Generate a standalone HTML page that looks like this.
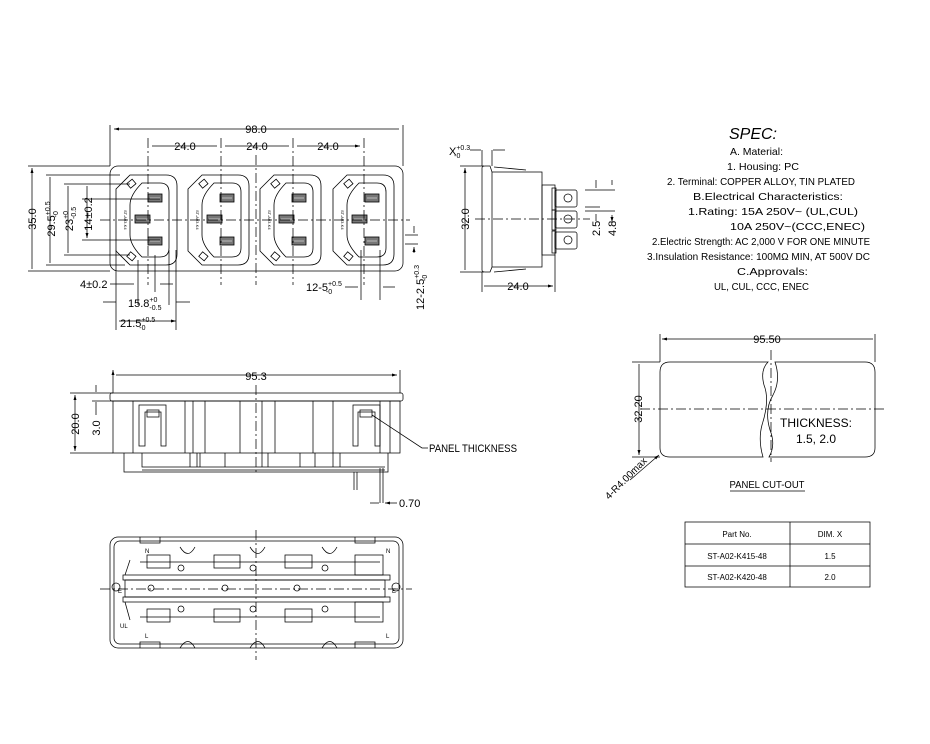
<!DOCTYPE html>
<html><head><meta charset="utf-8"><style>
html,body{margin:0;padding:0;background:#fff;}
svg{display:block;font-family:"Liberation Sans",sans-serif;}
</style></head><body>
<svg width="930" height="744" viewBox="0 0 930 744" xmlns="http://www.w3.org/2000/svg">
<defs>
<marker id="a" viewBox="0 0 10 6" refX="10" refY="3" markerWidth="8" markerHeight="4" orient="auto-start-reverse"><path d="M0,0L10,3L0,6z" fill="#000"/></marker>
<g id="sock" fill="none" stroke="#000" stroke-width="0.8">
<path d="M14,0H50Q61,0 61,11V79Q61,90 50,90H14L0,76V14Z"/>
<path d="M26,8H44Q53,8 53,17V73Q53,82 44,82H26Q14,70 14,60V30Q14,20 26,8Z"/>
<rect x="32" y="19" width="14" height="8" fill="#777"/>
<rect x="32" y="62" width="14" height="8" fill="#777"/>
<rect x="19" y="40" width="15" height="8" fill="#777"/>
<path d="M34,23H44M34,66H44M21,44H32" stroke="#fff" stroke-width="0.6"/>
<rect x="12" y="6" width="7" height="6" transform="rotate(-40 15 9)"/>
<rect x="12" y="78" width="7" height="6" transform="rotate(40 15 81)"/>
<text x="0" y="0" font-size="4" fill="#000" stroke="none" transform="translate(8,35) rotate(90)">ST-A03-K4</text>
</g>
</defs>
<g stroke="#000" stroke-width="0.75" fill="none">
<!-- FRONT VIEW -->
<rect x="110" y="166" width="293" height="105" rx="8"/>
<use href="#sock" x="116" y="175"/>
<use href="#sock" x="188" y="175"/>
<use href="#sock" x="260" y="175"/>
<use href="#sock" x="333" y="175"/>
<path d="M100,220H410" stroke-dasharray="10,3,2,3"/>
<path d="M148,138V285M221,138V285M293,138V285M364,138V285M256,155V285" stroke-dasharray="10,3,2,3"/>
<path d="M114,129H399M152,146H217M225,146H289M297,146H360" marker-start="url(#a)" marker-end="url(#a)"/>
<path d="M110,125V166M403,125V166"/>
<path d="M28,166H110M28,271H110M46,175H120M46,265H125M64,184H130M64,255H130M82,199H160M82,240H160"/>
<path d="M32,168V269M50,177V263M68,186V253M87,186V238" marker-start="url(#a)" marker-end="url(#a)"/>
<path d="M138,260V305M155,255V292M169,250V305M116,250V330M176,250V330M361,250V300M380,250V300M405,235H418M405,244H418"/>
<path d="M110,284H134M173,284H160M103,302H116M176,302H190M119,321H176" marker-end="url(#a)"/>
<path d="M345,287H358M395,287H383M414,226V233M414,253V247" marker-end="url(#a)"/>
<!-- SIDE VIEW -->
<path d="M482,168Q482,166 485,166H490L492,172V267L490,272H485Q482,272 482,270Z"/>
<path d="M492,172H542V267H492M494,167L526,170M494,272L526,269"/>
<rect x="542" y="185" width="13" height="70"/>
<rect x="555" y="190" width="22" height="17" rx="2"/><rect x="555" y="211" width="22" height="17" rx="2"/><rect x="555" y="232" width="22" height="17" rx="2"/>
<rect x="552" y="188" width="4" height="22"/><rect x="552" y="210" width="4" height="20"/><rect x="552" y="231" width="4" height="22"/>
<circle cx="568" cy="198" r="4"/><circle cx="568" cy="219" r="4"/><circle cx="568" cy="240" r="4"/>
<path d="M475,219H590" stroke-dasharray="10,3,2,3"/>
<path d="M460,166H484M460,272H484M482,272V292M555,255V292M585,190H615M585,207H600M585,211H615"/>
<path d="M465,168V270M484,286H553" marker-start="url(#a)" marker-end="url(#a)"/>
<path d="M482,150V166M492,150V166M470,150H481M505,150H493M596,188V180M596,214V221M612,185V180M612,215V222" marker-end="url(#a)"/>
<!-- ELEVATION -->
<rect x="110" y="393" width="293" height="8" rx="2"/>
<rect x="113" y="401" width="287" height="52"/>
<path d="M124,453V472H388V453M142,453V467H385M142,470H385"/>
<path d="M133,401V453M185,401V453M193,401V453M205,401V453M240,401V453M262,401V453M275,401V453M313,401V453M333,401V453M380,401V453M390,401V453"/>
<path d="M139,405H166V446H161V412H145V446H139Z M353,405H380V446H375V412H358V446H353Z"/>
<rect x="147" y="410" width="12" height="7"/><rect x="360" y="410" width="12" height="7"/>
<path d="M190,453V467M197,453V467M262,453V467M268,453V467M333,453V467M340,453V467M200,453V467M225,453V467M300,453V467M315,453V467"/>
<path d="M354,472V490M357,472V490M380,468V503M383,468V503"/>
<path d="M256,385V475" stroke-dasharray="10,3,2,3"/>
<path d="M113,370V393M400,370V393M116,375H397" marker-start="url(#a)" marker-end="url(#a)"/>
<path d="M70,393H113M92,401H113M70,453H113"/>
<path d="M75,395V451" marker-start="url(#a)" marker-end="url(#a)"/>
<path d="M96,385V392M96,415V402M370,503H379M397,503H385" marker-end="url(#a)"/>
<path d="M372,415L422,448H428"/>
<!-- BOTTOM VIEW -->
<rect x="110" y="537" width="293" height="111" rx="8"/>
<rect x="114" y="541" width="285" height="103" rx="6"/>
<path d="M123,575H390V580H123ZM123,597H390V602H123Z"/>
<path d="M125,580H385V597H125Z"/>
<path d="M147,555H170V568H147ZM214,555H240V568H214ZM285,555H312V568H285ZM355,555H383V575H355ZM147,609H170V622H147ZM214,609H240V622H214ZM285,609H312V622H285ZM355,602H383V622H355Z"/>
<path d="M140,562H380M140,617H380M130,560L125,575M130,620L125,602"/>
<path d="M180,547Q188,560 195,547M250,547Q258,560 265,547M322,547Q330,560 337,547M180,648Q188,635 195,648M250,648Q258,635 265,648M322,648Q330,635 337,648"/>
<path d="M140,537V543H160V537M355,537V543H375V537M140,648V642H160V648M355,648V642H375V648"/>
<circle cx="116" cy="587" r="4"/><circle cx="396" cy="587" r="4"/>
<circle cx="151" cy="588" r="3"/><circle cx="225" cy="588" r="3"/><circle cx="297" cy="588" r="3"/>
<circle cx="181" cy="568" r="3"/><circle cx="253" cy="568" r="3"/><circle cx="325" cy="568" r="3"/>
<circle cx="181" cy="609" r="3"/><circle cx="253" cy="609" r="3"/><circle cx="325" cy="609" r="3"/>
<path d="M100,589H412M256,530V660" stroke-dasharray="10,3,2,3"/>
<!-- PANEL CUT-OUT -->
<path d="M768,362H670Q660,362 660,372V448Q660,457 670,457H763Q758,440 762,425Q770,400 764,385Q760,370 768,362Z"/>
<path d="M775,362H865Q875,362 875,372V448Q875,457 865,457H769Q776,445 770,430Q764,410 773,395Q781,380 775,362Z"/>
<path d="M640,409H885M771,350V462" stroke-dasharray="10,3,2,3"/>
<path d="M660,334V362M875,334V362M632,362H660M632,457H660"/>
<path d="M662,339H873M639,364V455" marker-start="url(#a)" marker-end="url(#a)"/>
<path d="M630,480L659,455" marker-end="url(#a)"/>
<path d="M730,491H805"/>
<rect x="685" y="522" width="185" height="65"/>
<path d="M790,522V587M685,544H870M685,566H870"/>
</g>
<g fill="#000" font-size="11">
<text x="256" y="133" text-anchor="middle">98.0</text>
<text x="185" y="150" text-anchor="middle">24.0</text>
<text x="257" y="150" text-anchor="middle">24.0</text>
<text x="328" y="150" text-anchor="middle">24.0</text>
<text transform="translate(36,219) rotate(-90)" text-anchor="middle">35.0</text>
<text transform="translate(55,219) rotate(-90)" text-anchor="middle">29.5<tspan font-size="7" dy="-5">+0.5</tspan><tspan font-size="7" dx="-16" dy="8">-0</tspan></text>
<text transform="translate(73,219) rotate(-90)" text-anchor="middle">23<tspan font-size="7" dy="-5">+0</tspan><tspan font-size="7" dx="-8" dy="8">-0.5</tspan></text>
<text transform="translate(92,214) rotate(-90)" text-anchor="middle">14±0.2</text>
<text x="80" y="288">4±0.2</text>
<text x="128" y="307">15.8<tspan font-size="7" dy="-5">+0</tspan><tspan font-size="7" dx="-8" dy="8">-0.5</tspan></text>
<text x="120" y="327">21.5<tspan font-size="7" dy="-5">+0.5</tspan><tspan font-size="7" dx="-16" dy="8">-0</tspan></text>
<text x="306" y="291">12-5<tspan font-size="7" dy="-5">+0.5</tspan><tspan font-size="7" dx="-16" dy="8">-0</tspan></text>
<text transform="translate(424,310) rotate(-90)">12-2.5<tspan font-size="7" dy="-5">+0.3</tspan><tspan font-size="7" dx="-16" dy="8">-0</tspan></text>
<text x="449" y="155">X<tspan font-size="7" dy="-5">+0.3</tspan><tspan font-size="7" dx="-16" dy="8">-0</tspan></text>
<text transform="translate(469,219) rotate(-90)" text-anchor="middle">32.0</text>
<text x="518" y="290" text-anchor="middle">24.0</text>
<text transform="translate(600,236) rotate(-90)">2.5</text>
<text transform="translate(616,236) rotate(-90)">4.8</text>
<text x="256" y="380" text-anchor="middle">95.3</text>
<text transform="translate(79,424) rotate(-90)" text-anchor="middle">20.0</text>
<text transform="translate(100,428) rotate(-90)" text-anchor="middle">3.0</text>
<text x="429" y="452" textLength="88" lengthAdjust="spacingAndGlyphs">PANEL THICKNESS</text>
<text x="399" y="507">0.70</text>
<text x="767" y="343" text-anchor="middle">95.50</text>
<text transform="translate(642,409) rotate(-90)" text-anchor="middle">32.20</text>
<text x="816" y="427" text-anchor="middle" font-size="12">THICKNESS:</text>
<text x="816" y="443" text-anchor="middle" font-size="12">1.5, 2.0</text>
<text transform="translate(609,500) rotate(-45)" font-size="10">4-R4.00max</text>
<text x="767" y="488" text-anchor="middle" font-size="10" textLength="75" lengthAdjust="spacingAndGlyphs">PANEL CUT-OUT</text>
<text x="737" y="537" text-anchor="middle" font-size="8">Part No.</text>
<text x="830" y="537" text-anchor="middle" font-size="8">DIM. X</text>
<text x="737" y="559" text-anchor="middle" font-size="8">ST-A02-K415-48</text>
<text x="830" y="559" text-anchor="middle" font-size="8">1.5</text>
<text x="737" y="580" text-anchor="middle" font-size="8">ST-A02-K420-48</text>
<text x="830" y="580" text-anchor="middle" font-size="8">2.0</text>
<g font-size="6">
<text x="145" y="553">N</text><text x="386" y="553">N</text><text x="118" y="593">E</text><text x="392" y="593">E</text><text x="145" y="638">L</text><text x="386" y="638">L</text><text x="120" y="628">UL</text>
</g>
<g font-size="10.5">
<text x="753" y="139" font-size="16" font-style="italic" text-anchor="middle">SPEC:</text>
<text x="730" y="155" textLength="53" lengthAdjust="spacingAndGlyphs">A. Material:</text>
<text x="727" y="170" textLength="72" lengthAdjust="spacingAndGlyphs">1.  Housing: PC</text>
<text x="667" y="185" textLength="188" lengthAdjust="spacingAndGlyphs">2.  Terminal: COPPER ALLOY, TIN PLATED</text>
<text x="693" y="200" textLength="150" lengthAdjust="spacingAndGlyphs">B.Electrical Characteristics:</text>
<text x="688" y="215" textLength="170" lengthAdjust="spacingAndGlyphs">1.Rating:  15A 250V~ (UL,CUL)</text>
<text x="730" y="230" textLength="135" lengthAdjust="spacingAndGlyphs">10A 250V~(CCC,ENEC)</text>
<text x="652" y="245" textLength="218" lengthAdjust="spacingAndGlyphs">2.Electric Strength: AC 2,000 V FOR ONE MINUTE</text>
<text x="647" y="260" textLength="223" lengthAdjust="spacingAndGlyphs">3.Insulation Resistance: 100MΩ MIN, AT 500V DC</text>
<text x="737" y="275" textLength="71" lengthAdjust="spacingAndGlyphs">C.Approvals:</text>
<text x="714" y="290" textLength="95" lengthAdjust="spacingAndGlyphs">UL, CUL, CCC, ENEC</text>
</g>
</g>
</svg>
</body></html>
